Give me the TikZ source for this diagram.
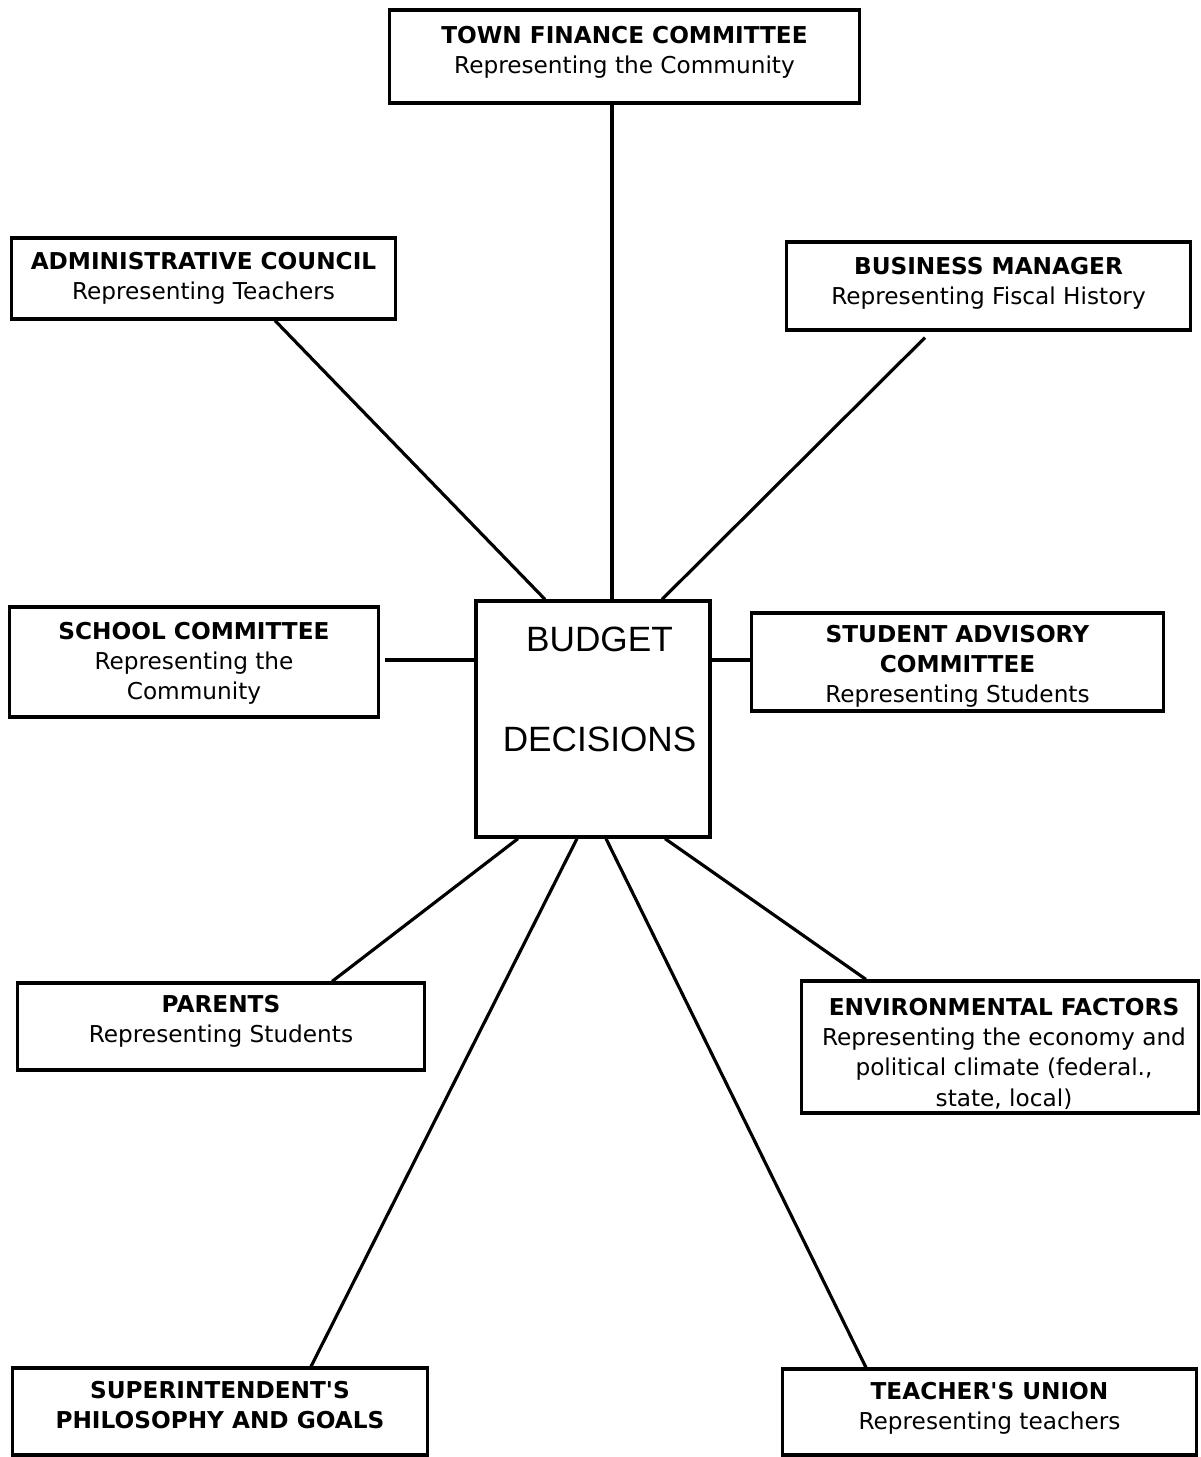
\documentclass[tikz,border=0pt]{standalone}
\usepackage{fontspec}
\setsansfont{DejaVu Sans}
\newfontfamily\budgetfont{Liberation Sans}
\usetikzlibrary{positioning}
\tikzset{panel/.style = {draw, rectangle, line width = 0.9pt, inner sep = 0}}
\tikzset{txt/.style = {align = center, inner sep = 0, font = \sffamily\fontsize{6.6}{8.6}\selectfont}}
\tikzset{link/.style = {line width = 0.9pt}}

\begin{document}
\begin{tikzpicture}[x = 0.01cm, y = -0.01cm]
        \useasboundingbox (0, 0) rectangle (1201, 1457);
        % boxes
        \node [panel, minimum width = 4.69cm, minimum height = 0.93cm] (town) at (624.5, 56.5) {};
        \node [panel, minimum width = 3.83cm, minimum height = 0.81cm] (admin) at (203.5, 278.5) {};
        \node [panel, minimum width = 4.03cm, minimum height = 0.88cm] (business) at (988.5, 286) {};
        \node [panel, minimum width = 3.68cm, minimum height = 1.10cm] (school) at (194, 662) {};
        \node [panel, minimum width = 2.34cm, minimum height = 2.36cm] (budget) at (593, 719) {};
        \node [panel, minimum width = 4.11cm, minimum height = 0.98cm] (student) at (957.5, 662) {};
        \node [panel, minimum width = 4.06cm, minimum height = 0.87cm] (parents) at (221, 1026.5) {};
        \node [panel, minimum width = 3.96cm, minimum height = 1.32cm] (environ) at (1000, 1047) {};
        \node [panel, minimum width = 4.14cm, minimum height = 0.87cm] (super) at (220, 1411.5) {};
        \node [panel, minimum width = 4.13cm, minimum height = 0.86cm] (union) at (989.5, 1412) {};
        % texts
        \node [txt, below = 0.17cm of town.north] (towntext) {\textbf{TOWN FINANCE COMMITTEE}\\Representing the Community};
        \node [txt, below = 0.15cm of admin.north] (admintext) {\textbf{ADMINISTRATIVE COUNCIL}\\Representing Teachers};
        \node [txt, below = 0.16cm of business.north] (businesstext) {\textbf{BUSINESS MANAGER}\\Representing Fiscal History};
        \node [txt, below = 0.16cm of school.north] (schooltext) {\textbf{SCHOOL COMMITTEE}\\Representing the\\Community};
        \node [txt, below = 0.27cm of budget.north, xshift = 0.065cm, font = \budgetfont\fontsize{10}{28.5}\selectfont] (budgettext) {BUDGET\\DECISIONS};
        \node [txt, below = 0.13cm of student.north] (studenttext) {\textbf{STUDENT ADVISORY}\\\textbf{COMMITTEE}\\Representing Students};
        \node [txt, below = 0.13cm of parents.north] (parentstext) {\textbf{PARENTS}\\Representing Students};
        \node [txt, below = 0.18cm of environ.north, xshift = 0.04cm] (environtext) {\textbf{ENVIRONMENTAL FACTORS}\\Representing the economy and\\political climate (federal.,\\state, local)};
        \node [txt, below = 0.14cm of super.north] (supertext) {\textbf{SUPERINTENDENT\textquotesingle S}\\\textbf{PHILOSOPHY AND GOALS}};
        \node [txt, below = 0.14cm of union.north] (uniontext) {\textbf{TEACHER\textquotesingle S UNION}\\Representing teachers};
        % connectors
        \draw [link] ([xshift = -0.125cm]town.south) -- ([xshift = -0.125cm]town.south |- budget.north);
        \draw [link] ([xshift = 0.715cm]admin.south) -- ([xshift = -0.48cm]budget.north);
        \draw [link] ([xshift = -0.635cm, yshift = -0.06cm]business.south) -- ([xshift = 0.69cm]budget.north);
        \draw [link] ([xshift = 0.05cm, yshift = 0.02cm]school.east) -- ([yshift = 0.02cm]school.east -| budget.west);
        \draw [link] ([yshift = 0.02cm]student.west) -- ([yshift = 0.02cm]student.west -| budget.east);
        \draw [link] ([xshift = 1.11cm]parents.north) -- ([xshift = -0.75cm]budget.south);
        \draw [link] ([xshift = -1.34cm]environ.north) -- ([xshift = 0.72cm]budget.south);
        \draw [link] ([xshift = 0.91cm]super.north) -- ([xshift = -0.16cm]budget.south);
        \draw [link] ([xshift = -1.235cm]union.north) -- ([xshift = 0.13cm]budget.south);
\end{tikzpicture}
\end{document}
